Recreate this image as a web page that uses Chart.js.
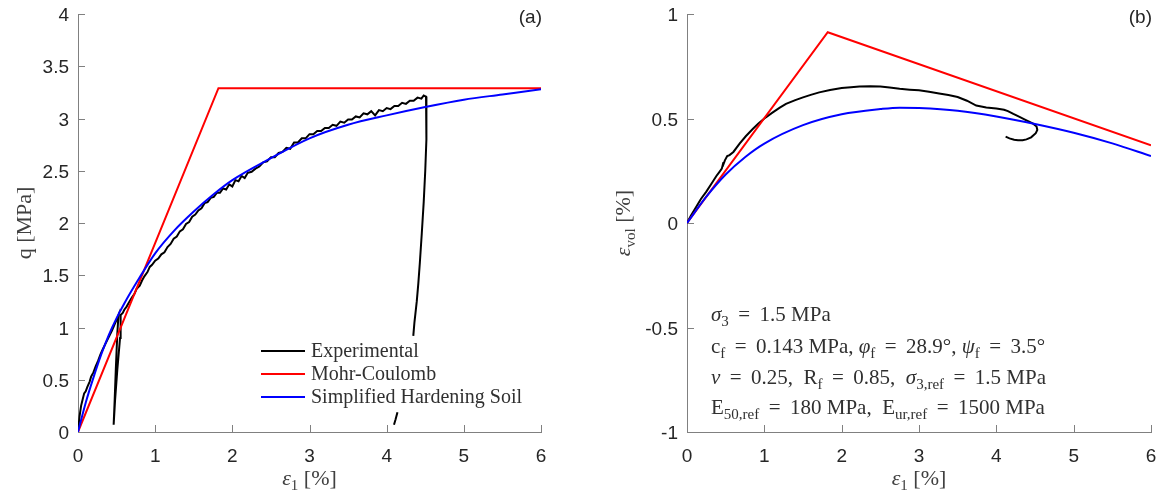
<!DOCTYPE html>
<html>
<head>
<meta charset="utf-8">
<script src="https://cdn.jsdelivr.net/npm/chart.js@4.4.1/dist/chart.umd.min.js"></script>
<style>
  html, body { margin: 0; padding: 0; background: #fff; }
  #wrap { position: relative; width: 1162px; height: 495px; }
  canvas { position: absolute; top: 0; }
  #c1 { left: 0; }
  #c2 { left: 581px; }
</style>
</head>
<body>
<div id="wrap">
  <canvas id="c1" width="581" height="495"></canvas>
  <canvas id="c2" width="581" height="495"></canvas>
</div>
<script>
// ---------- panel (a): q vs eps1 ----------
const mcX = [0, 1.82, 6];
const mcQ = [0, 3.29, 3.29];

const hsX = [0, 0.1, 0.2, 0.3, 0.4, 0.5, 0.6, 0.8, 1, 1.25, 1.5, 1.75, 2, 2.5, 3, 3.5, 4, 4.5, 5, 5.5, 6];
const hsQ = [0, 0.28, 0.52, 0.74, 0.93, 1.09, 1.23, 1.48, 1.71, 1.93, 2.11, 2.27, 2.41, 2.62, 2.81, 2.94, 3.03, 3.11, 3.18, 3.23, 3.28];

const expX = [0, 0.02, 0.04, 0.06, 0.08, 0.10, 0.12, 0.15, 0.17, 0.20, 0.23, 0.26, 0.29, 0.32, 0.36, 0.40, 0.44, 0.48, 0.51, 0.525,
  0.51, 0.49, 0.475, 0.462, 0.48, 0.51, 0.545, 0.555, 0.55,
  0.58, 0.60, 0.63, 0.66, 0.70, 0.73, 0.76, 0.80, 0.83, 0.86, 0.90, 0.93, 0.96, 1.00, 1.04, 1.08, 1.12, 1.16, 1.20, 1.24, 1.28,
  1.32, 1.36, 1.40, 1.44, 1.48, 1.52, 1.56, 1.60, 1.64, 1.68, 1.72, 1.76, 1.80, 1.84, 1.88, 1.92, 1.96, 2.00, 2.04, 2.08, 2.12,
  2.16, 2.20, 2.25, 2.30, 2.35, 2.40, 2.45, 2.50, 2.55, 2.60, 2.65, 2.70, 2.75, 2.80, 2.85, 2.90, 2.95, 3.00, 3.05, 3.10, 3.15,
  3.20, 3.25, 3.30, 3.35, 3.40, 3.45, 3.50, 3.55, 3.60, 3.65, 3.70, 3.75, 3.80, 3.85, 3.90, 3.95, 4.00, 4.05, 4.10, 4.15, 4.20,
  4.25, 4.30, 4.35, 4.40, 4.45, 4.48, 4.51,
  4.52, 4.51, 4.50, 4.48, 4.455, 4.43, 4.41, 4.39, 4.375, 4.36, 4.345,
  null, 4.095, 4.115, 4.14];
const expQ = [0, 0.15, 0.25, 0.31, 0.37, 0.39, 0.43, 0.48, 0.53, 0.57, 0.63, 0.68, 0.74, 0.79, 0.85, 0.91, 0.97, 1.04, 1.09, 1.12,
  0.95, 0.60, 0.30, 0.07, 0.30, 0.60, 0.90, 1.05, 1.12,
  1.14, 1.17, 1.20, 1.24, 1.29, 1.32, 1.37, 1.40, 1.45, 1.49, 1.53, 1.58, 1.60, 1.64, 1.66, 1.70, 1.72, 1.77, 1.80, 1.85, 1.87,
  1.92, 1.94, 1.99, 2.01, 2.06, 2.08, 2.12, 2.14, 2.19, 2.20, 2.24, 2.25, 2.29, 2.29, 2.33, 2.32, 2.37, 2.35, 2.41, 2.40, 2.45,
  2.43, 2.48, 2.49, 2.52, 2.54, 2.58, 2.59, 2.63, 2.63, 2.67, 2.68, 2.72, 2.71, 2.77, 2.77, 2.81, 2.81, 2.85, 2.85, 2.88, 2.88,
  2.91, 2.91, 2.94, 2.93, 2.97, 2.96, 2.99, 2.99, 3.02, 3.01, 3.05, 3.04, 3.07, 3.03, 3.08, 3.07, 3.10, 3.09, 3.12, 3.12, 3.15,
  3.14, 3.17, 3.17, 3.20, 3.19, 3.22, 3.21,
  3.20, 2.80, 2.50, 2.20, 1.90, 1.62, 1.42, 1.25, 1.15, 1.05, 0.92,
  null, 0.07, 0.12, 0.19];

// ---------- panel (b): eps_vol vs eps1 ----------
const mcVolX = [0, 1.82, 6];
const mcVol = [0, 0.913, 0.372];

const hsVolX = [0, 0.25, 0.5, 0.75, 1, 1.5, 2, 2.5, 2.75, 3, 3.5, 4, 4.5, 5, 5.5, 6];
const hsVol = [0, 0.126, 0.232, 0.315, 0.38, 0.468, 0.52, 0.545, 0.552, 0.55, 0.537, 0.51, 0.474, 0.432, 0.381, 0.32];

const expVolX = [0, 0.05, 0.12, 0.18, 0.25, 0.32, 0.38, 0.42, 0.45, 0.47, 0.46, 0.49, 0.52, 0.55, 0.6, 0.68, 0.76, 0.85, 0.92,
  1.0, 1.1, 1.2, 1.28, 1.4, 1.5, 1.6, 1.71, 1.85, 2.0, 2.12, 2.23, 2.37, 2.5, 2.62, 2.75, 2.88, 3.0, 3.13, 3.26, 3.38, 3.5,
  3.62, 3.74, 3.87, 4.0, 4.1, 4.15, 4.22, 4.3, 4.37, 4.43, 4.48, 4.52, 4.53, 4.51, 4.45, 4.39, 4.34, 4.28, 4.23, 4.17, 4.12];
const expVol = [0, 0.035, 0.078, 0.115, 0.15, 0.19, 0.225, 0.245, 0.26, 0.29, 0.27, 0.30, 0.32, 0.325, 0.34, 0.38, 0.415, 0.45, 0.475,
  0.50, 0.527, 0.552, 0.57, 0.588, 0.601, 0.613, 0.625, 0.636, 0.646, 0.65, 0.653, 0.654, 0.653, 0.648, 0.642, 0.638, 0.635, 0.628, 0.62, 0.612, 0.603,
  0.585, 0.562, 0.553, 0.548, 0.542, 0.535, 0.522, 0.508, 0.495, 0.484, 0.474, 0.462, 0.445, 0.43, 0.41, 0.40, 0.396, 0.396, 0.398, 0.405, 0.413];

// ---------- ticks ----------
const strainTicks = [0, 1, 2, 3, 4, 5, 6];
const qTicks = [0, 0.5, 1, 1.5, 2, 2.5, 3, 3.5, 4];
const volTicks = [-1, -0.5, 0, 0.5, 1];

const legendNames = ['Experimental', 'Mohr-Coulomb', 'Simplified Hardening Soil'];
const lineColors = ['#000000', '#ff0000', '#0000ff'];

const axisGrey = '#808080';
const labelColor = '#262626';
const serif = '"Liberation Serif", "DejaVu Serif", serif';
const sans = '"Liberation Sans", Arial, sans-serif';
const EQ = ' \u2009=\u2009 ';

function pts(xs, ys) {
  return xs.map((v, i) => ({ x: v, y: ys[i] }));
}

// draws a line of text with simple italic / subscript runs
function rich(ctx, parts, x, y, size, align) {
  const font = k => (k === 'i' ? 'italic ' : '') + Math.round(k === 's' ? size * 0.7 : size) + 'px ' + serif;
  let w = 0;
  parts.forEach(([t, k]) => { ctx.font = font(k); w += ctx.measureText(t).width; });
  let cx = align === 'center' ? x - w / 2 : x;
  ctx.textAlign = 'left';
  ctx.textBaseline = 'alphabetic';
  parts.forEach(([t, k]) => {
    ctx.font = font(k);
    ctx.fillText(t, cx, k === 's' ? y + size * 0.22 : y);
    cx += ctx.measureText(t).width;
  });
}

const deco = {
  id: 'deco',
  beforeDatasetsDraw(chart) {
    const { ctx, chartArea: a, scales: { x, y } } = chart;
    ctx.save();
    ctx.strokeStyle = axisGrey;
    ctx.lineWidth = 1;
    ctx.beginPath();
    x.ticks.forEach(t => {
      const px = Math.round(x.getPixelForValue(t.value)) + 0.5;
      ctx.moveTo(px, a.bottom);
      ctx.lineTo(px, a.bottom - 7);
    });
    y.ticks.forEach(t => {
      const py = Math.round(y.getPixelForValue(t.value)) + 0.5;
      ctx.moveTo(a.left, py);
      ctx.lineTo(a.left + 7, py);
    });
    ctx.stroke();
    ctx.restore();
  },
  afterDraw(chart, args, o) {
    const { ctx, chartArea: a } = chart;
    ctx.save();
    ctx.fillStyle = labelColor;
    // panel tag
    ctx.font = '19px ' + sans;
    ctx.textAlign = 'right';
    ctx.textBaseline = 'middle';
    ctx.fillText(o.tag, a.right + 1, 18);
    // axis titles
    ctx.fillStyle = '#404040';
    rich(ctx, [['ε', 'i'], ['1', 's'], [' [%]', '']], (a.left + a.right) / 2, 485, 22, 'center');
    ctx.save();
    ctx.translate(o.yTitleX, (a.top + a.bottom) / 2);
    ctx.rotate(-Math.PI / 2);
    rich(ctx, o.yTitle, 0, 0, 22, 'center');
    ctx.restore();
    // legend
    if (o.legend) {
      legendNames.forEach((name, i) => {
        const ly = 351 + i * 23;
        ctx.strokeStyle = lineColors[i];
        ctx.lineWidth = 2;
        ctx.beginPath();
        ctx.moveTo(261, ly);
        ctx.lineTo(305, ly);
        ctx.stroke();
        ctx.fillStyle = '#303030';
        ctx.font = '20px ' + serif;
        ctx.textAlign = 'left';
        ctx.textBaseline = 'middle';
        ctx.fillText(name, 311, ly + 1);
      });
    }
    // parameter text
    if (o.notes) {
      ctx.fillStyle = '#303030';
      o.notes.forEach((line, i) => rich(ctx, line, 130, [321, 353, 384, 414][i], 21, 'left'));
    }
    ctx.restore();
  }
};

function makeChart(id, sets, yMin, yMax, yTicks, yWidth, padRight, deco_opts) {
  return new Chart(document.getElementById(id), {
    type: 'line',
    data: {
      datasets: sets.map((s, i) => ({
        data: s,
        borderColor: lineColors[i],
        borderWidth: 2,
        pointRadius: 0,
        fill: false,
        tension: 0,
        cubicInterpolationMode: i === 2 ? 'monotone' : 'default',
        order: 3 - i
      }))
    },
    options: {
      responsive: false,
      animation: false,
      events: [],
      layout: { padding: { left: 0, top: 14, right: padRight, bottom: 0 } },
      plugins: { legend: { display: false }, tooltip: { enabled: false }, deco: deco_opts },
      scales: {
        x: {
          type: 'linear', min: 0, max: 6,
          afterFit: s => { s.height = 63; s.paddingLeft = 0; s.paddingRight = 0; },
          afterBuildTicks: s => { s.ticks = strainTicks.map(v => ({ value: v })); },
          grid: { display: true, drawOnChartArea: false, drawTicks: false },
          border: { display: true, color: axisGrey, width: 1 },
          ticks: { color: labelColor, padding: 13, maxRotation: 0, font: { family: sans, size: 19 } }
        },
        y: {
          type: 'linear', min: yMin, max: yMax,
          afterFit: s => { s.width = yWidth; s.paddingTop = 0; s.paddingBottom = 0; },
          afterBuildTicks: s => { s.ticks = yTicks.map(v => ({ value: v })); },
          grid: { display: true, drawOnChartArea: false, drawTicks: false },
          border: { display: true, color: axisGrey, width: 1 },
          ticks: { color: labelColor, padding: 9, labelOffset: 2, font: { family: sans, size: 19 }, callback: v => String(v) }
        }
      }
    },
    plugins: [deco]
  });
}

makeChart('c1', [pts(expX, expQ), pts(mcX, mcQ), pts(hsX, hsQ)], 0, 4, qTicks, 78, 40, {
  tag: '(a)',
  yTitleX: 31,
  yTitle: [['q [MPa]', '']],
  legend: true
});

makeChart('c2', [pts(expVolX, expVol), pts(mcVolX, mcVol), pts(hsVolX, hsVol)], -1, 1, volTicks, 106, 11, {
  tag: '(b)',
  yTitleX: 49,
  yTitle: [['ε', 'i'], ['vol', 's'], [' [%]', '']],
  notes: [
    [['σ', 'i'], ['3', 's'], [EQ + '1.5 MPa', '']],
    [['c', ''], ['f', 's'], [EQ + '0.143 MPa, ', ''], ['φ', 'i'], ['f', 's'], [EQ + '28.9°, ', ''], ['ψ', 'i'], ['f', 's'], [EQ + '3.5°', '']],
    [['ν', 'i'], [EQ + '0.25,  R', ''], ['f', 's'], [EQ + '0.85,  ', ''], ['σ', 'i'], ['3,ref', 's'], [EQ + '1.5 MPa', '']],
    [['E', ''], ['50,ref', 's'], [EQ + '180 MPa,  E', ''], ['ur,ref', 's'], [EQ + '1500 MPa', '']]
  ]
});
</script>
</body>
</html>
